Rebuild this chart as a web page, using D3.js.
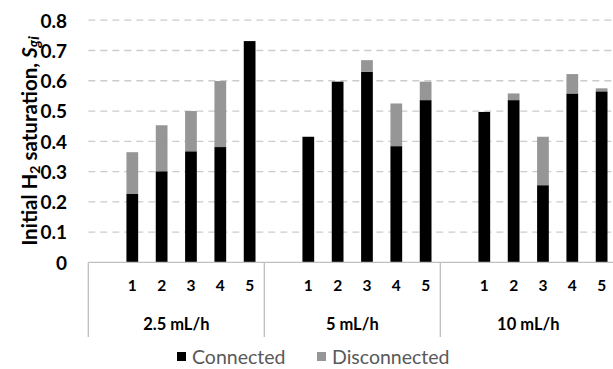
<!DOCTYPE html>
<html>
<head>
<meta charset="utf-8">
<script src="https://cdn.jsdelivr.net/npm/d3@7"></script>
<style>
  html, body { margin: 0; padding: 0; background: #fff; }
  svg { display: block; font-family: Lato, "Liberation Sans", sans-serif; }
</style>
</head>
<body>
<svg id="chart" width="613" height="369"></svg>
<script>
// Injection rates (outer categories) and run numbers (inner categories).
// The first slot of each rate is left empty.
const rates = ["2.5 mL/h", "5 mL/h", "10 mL/h"];
const runs = ["", "1", "2", "3", "4", "5"];

// Initial H2 saturation split into connected and disconnected parts, per rate.
const connected = [
  [0.226, 0.301, 0.367, 0.381, 0.731],
  [0.415, 0.597, 0.630, 0.384, 0.536],
  [0.497, 0.536, 0.255, 0.558, 0.565]
];
const disconnected = [
  [0.138, 0.152, 0.133, 0.218, 0.000],
  [0.000, 0.000, 0.038, 0.141, 0.061],
  [0.000, 0.022, 0.160, 0.064, 0.010]
];

const yTicks = [0, 0.1, 0.2, 0.3, 0.4, 0.5, 0.6, 0.7, 0.8];
const seriesNames = ["Connected", "Disconnected"];
const seriesColors = ["#000000", "#969696"];

const svg = d3.select("#chart");
const W = 613;
const plotLeft = 88.3, plotRight = 616.3, plotTop = 20.2, plotBottom = 262.4;

const x0 = d3.scaleBand().domain(rates).range([plotLeft, plotRight]).padding(0);
const x1 = d3.scaleBand().domain(runs).range([0, x0.bandwidth()])
  .paddingInner(0.6).paddingOuter(0.3);
const y = d3.scaleLinear().domain([0, 0.8]).range([plotBottom, plotTop]);

// Horizontal dashed gridlines
svg.append("g").selectAll("line")
  .data(yTicks.filter(d => d > 0))
  .join("line")
  .attr("x1", plotLeft).attr("x2", W)
  .attr("y1", d => y(d)).attr("y2", d => y(d))
  .attr("stroke", "#cccccc").attr("stroke-width", 1.3)
  .attr("stroke-dasharray", "7,5");

// Y axis labels
const yAxis = d3.axisLeft(y).tickValues(yTicks)
  .tickFormat(d => d === 0 ? "0" : d3.format(".1f")(d))
  .tickSize(0).tickPadding(0);
const yg = svg.append("g").attr("transform", "translate(67,0)").call(yAxis);
yg.select(".domain").remove();
yg.selectAll("text")
  .attr("font-family", "Lato, sans-serif")
  .attr("font-size", 19).attr("font-weight", "bold").attr("fill", "#000")
  .attr("dy", "0.36em");

// Stacked bars
const stackData = [];
rates.forEach((r, gi) => {
  runs.slice(1).forEach((run, ri) => {
    const c = connected[gi][ri], dsc = disconnected[gi][ri];
    stackData.push({ rate: r, run, series: 0, y0: 0, y1: c });
    if (dsc > 0) stackData.push({ rate: r, run, series: 1, y0: c, y1: c + dsc });
  });
});
svg.append("g").selectAll("rect")
  .data(stackData)
  .join("rect")
  .attr("x", d => x0(d.rate) + x1(d.run))
  .attr("width", x1.bandwidth())
  .attr("y", d => y(d.y1))
  .attr("height", d => y(d.y0) - y(d.y1))
  .attr("fill", d => seriesColors[d.series]);

// Category axis: baseline and group separators
const axisColor = "#bfbfbf";
svg.append("line")
  .attr("x1", plotLeft).attr("x2", W).attr("y1", plotBottom).attr("y2", plotBottom)
  .attr("stroke", axisColor).attr("stroke-width", 1.3);
svg.append("g").selectAll("line")
  .data(rates.map(r => x0(r)).concat([plotRight]))
  .join("line")
  .attr("x1", d => d).attr("x2", d => d)
  .attr("y1", plotBottom).attr("y2", 337)
  .attr("stroke", axisColor).attr("stroke-width", 1.3);

// Run labels
const runLabels = [];
rates.forEach(r => runs.slice(1).forEach(run => runLabels.push({ r, run })));
svg.append("g").selectAll("text")
  .data(runLabels)
  .join("text")
  .attr("x", d => x0(d.r) + x1(d.run) + x1.bandwidth() / 2)
  .attr("y", 290.7)
  .attr("text-anchor", "middle")
  .attr("font-size", 15.5).attr("font-weight", "bold").attr("fill", "#000")
  .text(d => d.run);

// Rate labels
svg.append("g").selectAll("text")
  .data(rates)
  .join("text")
  .attr("x", d => x0(d) + x0.bandwidth() / 2)
  .attr("y", 329.5)
  .attr("text-anchor", "middle")
  .attr("font-size", 16.5).attr("font-weight", "bold").attr("fill", "#000")
  .text(d => d);

// Y axis title
const title = svg.append("text")
  .attr("transform", "translate(37,141) rotate(-90)")
  .attr("text-anchor", "middle")
  .attr("font-size", 20.5).attr("font-weight", "bold").attr("fill", "#000");
title.append("tspan").text("Initial H");
title.append("tspan").attr("font-size", 14).attr("dy", 3).text("2");
title.append("tspan").attr("dy", -3).text(" saturation, ");
title.append("tspan").attr("font-style", "italic").text("S");
title.append("tspan").attr("font-style", "italic").attr("font-size", 15).attr("dy", 2).text("gi");

// Legend
const legend = svg.append("g");
const legendX = [177, 317];
seriesNames.forEach((name, i) => {
  legend.append("rect")
    .attr("x", legendX[i]).attr("y", 352)
    .attr("width", 9).attr("height", 9)
    .attr("fill", seriesColors[i]);
  legend.append("text")
    .attr("x", legendX[i] + 15).attr("y", 364)
    .attr("font-size", 19.5).attr("fill", "#595959")
    .text(name);
});
</script>
</body>
</html>
